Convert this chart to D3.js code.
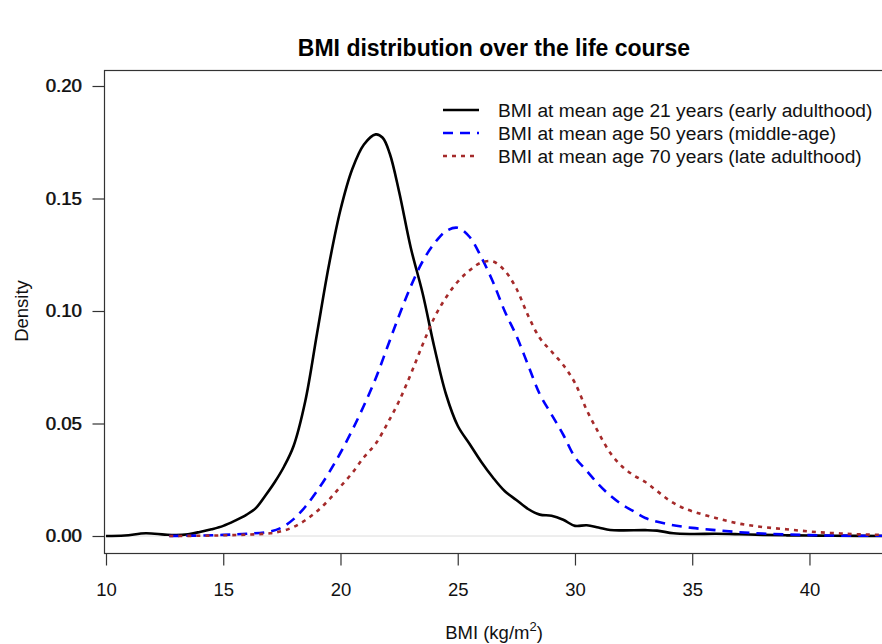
<!DOCTYPE html>
<html>
<head>
<meta charset="utf-8">
<script src="https://cdn.jsdelivr.net/npm/d3@7"></script>
<style>
  body { margin: 0; background: #fff; }
  svg { display: block; font-family: "Liberation Sans", Arial, Helvetica, sans-serif; }
  .ylab { text-shadow: 0.8px 0 0 rgba(17,17,17,0.8); }
</style>
</head>
<body>
<svg id="chart" width="882" height="644"></svg>
<script>
// ---- Data ----
const bmi21 = [[10,0],[10.8,0.0002],[11.7,0.0012],[12.5,0.0006],[13,0.0004],[13.5,0.0008],[14,0.0018],[14.5,0.003],[15,0.0045],[15.5,0.0068],[16,0.0095],[16.4,0.0125],[16.8,0.018],[17.2,0.024],[17.6,0.031],[18,0.04],[18.5,0.06],[19,0.09],[19.5,0.12],[20,0.145],[20.5,0.163],[21,0.174],[21.5,0.1785],[21.8,0.177],[22.1,0.17],[22.5,0.153],[23,0.128],[23.5,0.108],[24,0.084],[24.5,0.063],[25,0.049],[25.5,0.041],[26,0.033],[26.5,0.026],[27,0.02],[27.5,0.016],[28,0.012],[28.5,0.0095],[29,0.009],[29.5,0.0072],[30,0.0045],[30.5,0.0048],[31,0.0038],[31.5,0.0027],[32,0.0025],[33,0.0026],[33.5,0.0024],[34.2,0.0012],[35,0.0009],[36,0.001],[37,0.0008],[38,0.0005],[39,0.0003],[40,0.0002],[41,0.0001],[43.5,0]];
const bmi50 = [[12.7,0],[14,0.0002],[15,0.0005],[16,0.001],[17,0.002],[17.5,0.0038],[18,0.0075],[18.5,0.013],[19,0.02],[19.5,0.028],[20,0.037],[20.5,0.047],[21,0.058],[21.5,0.07],[22,0.084],[22.5,0.098],[23,0.111],[23.5,0.122],[24,0.13],[24.5,0.1355],[25,0.137],[25.5,0.133],[26,0.124],[26.5,0.113],[27,0.1],[27.5,0.089],[28,0.076],[28.5,0.063],[29,0.054],[29.5,0.045],[30,0.035],[30.5,0.029],[31,0.023],[31.5,0.018],[32,0.014],[32.5,0.011],[33,0.008],[34,0.0052],[35,0.0036],[36,0.0026],[37,0.0017],[38,0.0011],[39,0.0007],[40,0.0004],[41,0.0002],[43.5,0.0001]];
const bmi70 = [[12.7,0],[14,0.0001],[15,0.0003],[16,0.0006],[17,0.0012],[17.5,0.0022],[18,0.004],[18.5,0.007],[19,0.011],[19.5,0.016],[20,0.022],[20.5,0.028],[21,0.035],[21.5,0.041],[22,0.05],[22.5,0.06],[23,0.072],[23.5,0.085],[24,0.097],[24.5,0.106],[25,0.113],[25.5,0.118],[26,0.1215],[26.5,0.122],[27,0.118],[27.5,0.11],[28,0.098],[28.5,0.088],[29,0.082],[29.5,0.076],[30,0.068],[30.5,0.056],[31,0.046],[31.5,0.037],[32,0.031],[32.5,0.027],[33,0.024],[33.5,0.02],[34,0.016],[34.5,0.013],[35,0.011],[36,0.008],[37,0.0055],[38,0.004],[39,0.003],[40,0.002],[41,0.0013],[42,0.0008],[43.5,0.0004]];

const xTicks = [10, 15, 20, 25, 30, 35, 40];
const yTicks = [0.00, 0.05, 0.10, 0.15, 0.20];
const seriesNames = ["BMI at mean age 21 years (early adulthood)", "BMI at mean age 50 years (middle-age)", "BMI at mean age 70 years (late adulthood)"];
const seriesColors = ["#000000", "#0000ff", "#a52a2a"];
const seriesDash = [null, "10,7", "4,5"];

// ---- Layout ----
const svg = d3.select("#chart");
const pLeft = 104, pTop = 70, pRight = 884, pBottom = 553;
const FS = 18.5;

const x = d3.scaleLinear().domain([10, 43.2]).range([106, 884.5]);
const y = d3.scaleLinear().domain([0, 0.20]).range([536, 86]);

svg.append("defs").append("clipPath").attr("id", "clip")
  .append("rect").attr("x", pLeft).attr("y", pTop).attr("width", pRight - pLeft).attr("height", pBottom - pTop);

// zero reference line
svg.append("line")
  .attr("x1", pLeft).attr("x2", pRight)
  .attr("y1", y(0)).attr("y2", y(0))
  .attr("stroke", "#dcdcdc").attr("stroke-width", 1);

// curves
const line = d3.line().x(d => x(d[0])).y(d => y(d[1])).curve(d3.curveCatmullRom.alpha(0.5));
const data = [bmi21, bmi50, bmi70];
const g = svg.append("g").attr("clip-path", "url(#clip)");
data.forEach((s, i) => {
  g.append("path")
    .attr("d", line(s))
    .attr("fill", "none")
    .attr("stroke", seriesColors[i])
    .attr("stroke-width", 2.6)
    .attr("stroke-dasharray", seriesDash[i])
    .attr("stroke-linejoin", "round");
});

// box
svg.append("rect")
  .attr("x", pLeft + 0.5).attr("y", pTop + 0.5)
  .attr("width", pRight - pLeft).attr("height", pBottom - pTop)
  .attr("fill", "none").attr("stroke", "#333").attr("stroke-width", 1.2);

// x axis
const xAxis = d3.axisBottom(x).tickValues(xTicks).tickSize(12).tickPadding(17).tickFormat(d3.format("d"));
const xg = svg.append("g").attr("transform", `translate(0,${pBottom + 0.5})`).call(xAxis);
xg.select(".domain").attr("d", `M${x(10)},0H${x(40)}`).attr("stroke", "#333").attr("stroke-width", 1.2);
xg.selectAll(".tick line").attr("stroke", "#333").attr("stroke-width", 1.2);
xg.selectAll(".tick text").attr("font-size", FS).attr("fill", "#111")
  .attr("font-family", "'Liberation Sans', Arial, sans-serif");

// y axis (labels look doubled in the reference)
const yAxis = d3.axisLeft(y).tickValues(yTicks).tickSize(12).tickPadding(11).tickFormat(d3.format(".2f"));
const yg = svg.append("g").attr("transform", `translate(${pLeft + 0.5},0)`).call(yAxis);
yg.select(".domain").remove();
yg.selectAll(".tick line").attr("stroke", "#333").attr("stroke-width", 1.2);
yg.selectAll(".tick text").attr("font-size", FS).attr("fill", "#111").attr("class", "ylab")
  .attr("font-family", "'Liberation Sans', Arial, sans-serif");

// title
svg.append("text")
  .attr("x", 494).attr("y", 56)
  .attr("text-anchor", "middle").attr("font-size", 23).attr("font-weight", "bold")
  .attr("fill", "#000")
  .text("BMI distribution over the life course");

// axis titles
const xt = svg.append("text")
  .attr("x", 494).attr("y", 639)
  .attr("text-anchor", "middle").attr("font-size", FS).attr("fill", "#111");
xt.append("tspan").text("BMI (kg/m");
xt.append("tspan").attr("font-size", 13).attr("dy", -8).text("2");
xt.append("tspan").attr("dy", 8).text(")");

svg.append("text")
  .attr("transform", "translate(28,311) rotate(-90)")
  .attr("text-anchor", "middle").attr("font-size", FS).attr("fill", "#111")
  .text("Density");

// legend
const lg = svg.append("g");
seriesNames.forEach((name, i) => {
  const yy = 110 + i * 23;
  lg.append("line")
    .attr("x1", 443).attr("x2", 479).attr("y1", yy).attr("y2", yy)
    .attr("stroke", seriesColors[i]).attr("stroke-width", 2.6)
    .attr("stroke-dasharray", seriesDash[i]);
  lg.append("text")
    .attr("x", 498).attr("y", yy).attr("dy", "0.35em")
    .attr("font-size", 19.2).attr("fill", "#111")
    .text(name);
});
</script>
</body>
</html>
